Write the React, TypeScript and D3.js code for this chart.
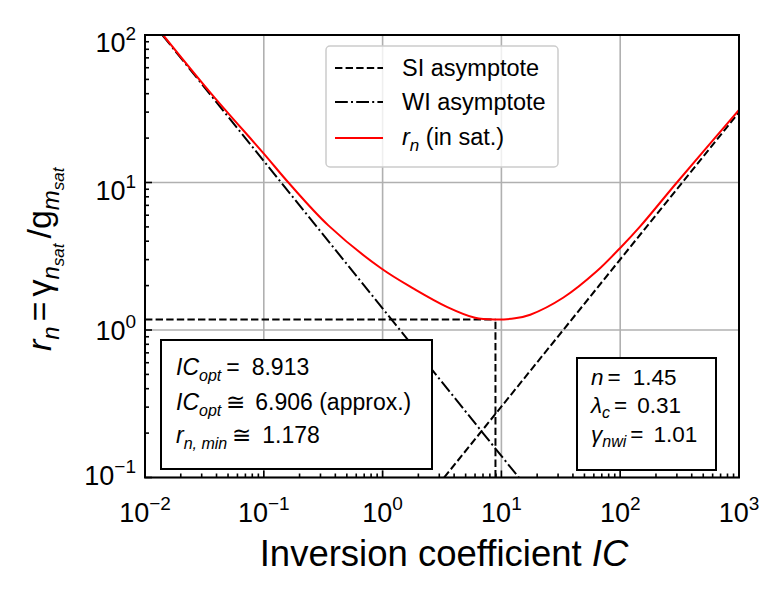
import React from 'react';
import * as d3 from 'd3';

// r_n curve (IC, r_n)
const rnIC = [0.0142, 0.0365, 0.1, 0.161, 0.351, 0.97, 1.84, 3.51, 6.0, 8.913, 13.0, 17.5, 33.3, 63.4, 100, 146, 300, 1000];
const rnVal = [100, 39.6, 15.7, 10.0, 5.1, 2.62, 1.90, 1.43, 1.21, 1.178, 1.20, 1.27, 1.66, 2.5, 3.6, 5.0, 10, 31];

// asymptotes (end points)
const siIC = [3.3, 1000];
const siVal = [0.1, 30];
const wiIC = [0.014, 14];
const wiVal = [100, 0.1];

// optimum
const icOpt = 8.913;
const icOptApprox = 6.906;
const rMin = 1.178;

// device parameters
const nSlope = 1.45;
const lambdaC = 0.31;
const gammaNwi = 1.01;

const xDecades = [-2, -1, 0, 1, 2, 3];
const yDecades = [-1, 0, 1, 2];

const W = 781;
const H = 592;
const margin = { top: 35, right: 42, bottom: 114.5, left: 145 };
const FONT = '"Liberation Sans", Arial, Helvetica, sans-serif';

const App: React.FC = () => {
  const x = d3.scaleLog().domain([1e-2, 1e3]).range([margin.left, W - margin.right]);
  const y = d3.scaleLog().domain([1e-1, 1e2]).range([H - margin.bottom, margin.top]);
  const [x0, x1] = x.range();
  const [y0, y1] = y.range();

  const line = d3.line<[number, number]>()
    .x(d => x(d[0]))
    .y(d => y(d[1]));
  const curve = d3.line<[number, number]>()
    .x(d => x(d[0]))
    .y(d => y(d[1]))
    .curve(d3.curveCatmullRom.alpha(0.5));

  const rnPts = rnIC.map((v, i) => [v, rnVal[i]] as [number, number]);
  const siPts = siIC.map((v, i) => [v, siVal[i]] as [number, number]);
  const wiPts = wiIC.map((v, i) => [v, wiVal[i]] as [number, number]);
  const hOpt: [number, number][] = [[1e-2, rMin], [icOpt, rMin]];
  const vOpt: [number, number][] = [[icOpt, 1e-1], [icOpt, rMin]];

  const isMajor = (v: number) => Math.abs(Math.log10(v) - Math.round(Math.log10(v))) < 1e-9;
  const xTicks = x.ticks();
  const yTicks = y.ticks();

  // matplotlib centres mathtext labels a bit differently per exponent
  const yLabelOffset = (e: number) => (e >= 1 ? 17 : e === 0 ? 10 : 7);
  const expText = (e: number) => (e < 0 ? '\u2212' + Math.abs(e) : String(e));

  const dashed = '7.4,3.2';
  const dashDot = '12.8,3.2,2,3.2';

  return (
    <div style={{ position: 'absolute', left: 0, top: 0 }}>
      <svg width={W} height={H} style={{ display: 'block', background: '#fff' }} fontFamily={FONT}>
        <defs>
          <clipPath id="plotClip">
            <rect x={x0} y={y1} width={x1 - x0} height={y0 - y1} />
          </clipPath>
        </defs>

        {/* grid */}
        {xDecades.map(e => (
          <line key={'gx' + e} x1={x(10 ** e)} x2={x(10 ** e)} y1={y1} y2={y0} stroke="#b0b0b0" strokeWidth={1.6} />
        ))}
        {yDecades.map(e => (
          <line key={'gy' + e} x1={x0} x2={x1} y1={y(10 ** e)} y2={y(10 ** e)} stroke="#b0b0b0" strokeWidth={1.6} />
        ))}

        <g clipPath="url(#plotClip)" fill="none">
          <path d={line(siPts) || ''} stroke="#000" strokeWidth={2} strokeDasharray={dashed} />
          <path d={line(wiPts) || ''} stroke="#000" strokeWidth={2} strokeDasharray={dashDot} />
          <path d={line(hOpt) || ''} stroke="#000" strokeWidth={2} strokeDasharray={dashed} />
          <path d={line(vOpt) || ''} stroke="#000" strokeWidth={2} strokeDasharray={dashed} />
          <path d={curve(rnPts) || ''} stroke="#ff0000" strokeWidth={2} />
        </g>

        {/* ticks (inward) */}
        {xTicks.map((t, i) => (
          <line key={'tx' + i} x1={x(t)} x2={x(t)} y1={y0} y2={y0 - (isMajor(t) ? 7 : 4)} stroke="#000" strokeWidth={1.6} />
        ))}
        {yTicks.map((t, i) => (
          <line key={'ty' + i} x1={x0} x2={x0 + (isMajor(t) ? 7 : 4)} y1={y(t)} y2={y(t)} stroke="#000" strokeWidth={1.6} />
        ))}

        {/* spines */}
        <rect x={x0} y={y1} width={x1 - x0} height={y0 - y1} fill="none" stroke="#000" strokeWidth={2} />

        {/* tick labels */}
        {xDecades.map(e => (
          <text key={'lx' + e} x={x(10 ** e)} y={y0 + 44} textAnchor="middle" fontSize={27} fill="#000">
            <tspan>10</tspan>
            <tspan fontSize={19} dy={-12}>{expText(e)}</tspan>
          </text>
        ))}
        {yDecades.map(e => (
          <text key={'ly' + e} x={x0 - 9} y={y(10 ** e) + yLabelOffset(e)} textAnchor="end" fontSize={27} fill="#000">
            <tspan>10</tspan>
            <tspan fontSize={19} dy={-12}>{expText(e)}</tspan>
          </text>
        ))}

        {/* axis labels */}
        <text x={(x0 + x1) / 2 + 2} y={566} textAnchor="middle" fontSize={36.5} fill="#000">
          Inversion coefficient <tspan fontStyle="italic">IC</tspan>
        </text>
        <text transform={`translate(51, ${(y0 + y1) / 2 + 3}) rotate(-90)`} textAnchor="middle" fontSize={34} fill="#000">
          <tspan fontStyle="italic">r</tspan>
          <tspan fontStyle="italic" fontSize={24} dy={8}>n</tspan>
          <tspan dy={-8} dx={5}>=</tspan>
          <tspan dx={5}>γ</tspan>
          <tspan fontStyle="italic" fontSize={24} dy={8}>n</tspan>
          <tspan fontStyle="italic" fontSize={17} dy={5}>sat</tspan>
          <tspan dy={-13} dx={5}>/g</tspan>
          <tspan fontStyle="italic" fontSize={24} dy={8}>m</tspan>
          <tspan fontStyle="italic" fontSize={17} dy={5}>sat</tspan>
        </text>

        {/* legend */}
        <g>
          <rect x={326} y={46} width={232} height={121} rx={4} fill="#fff" fillOpacity={0.8} stroke="#cccccc" strokeWidth={1.5} />
          <line x1={335} x2={383} y1={68} y2={68} stroke="#000" strokeWidth={2} strokeDasharray={dashed} />
          <line x1={335} x2={383} y1={102} y2={102} stroke="#000" strokeWidth={2} strokeDasharray={dashDot} />
          <line x1={335} x2={383} y1={138} y2={138} stroke="#ff0000" strokeWidth={2} />
          <text x={402} y={76} fontSize={23.5} fill="#000">SI asymptote</text>
          <text x={402} y={110} fontSize={23.5} fill="#000">WI asymptote</text>
          <text x={402} y={145} fontSize={23.5} fill="#000">
            <tspan fontStyle="italic">r</tspan>
            <tspan fontStyle="italic" fontSize={17} dy={6}>n</tspan>
            <tspan dy={-6}> (in sat.)</tspan>
          </text>
        </g>

        {/* result box */}
        <g>
          <rect x={161} y={340} width={271} height={129} fill="#fff" stroke="#000" strokeWidth={2} />
          <text x={176} y={375} fontSize={23} fill="#000">
            <tspan fontStyle="italic">IC</tspan>
            <tspan fontStyle="italic" fontSize={16} dy={6}>opt</tspan>
            <tspan dy={-6} dx={5}>=</tspan>
            <tspan dx={12}>{icOpt.toFixed(3)}</tspan>
          </text>
          <text x={176} y={410} fontSize={23} fill="#000">
            <tspan fontStyle="italic">IC</tspan>
            <tspan fontStyle="italic" fontSize={16} dy={6}>opt</tspan>
            <tspan dy={-6} dx={5}>≅</tspan>
            <tspan dx={10}>{icOptApprox.toFixed(3)} (approx.)</tspan>
          </text>
          <text x={176} y={443} fontSize={23} fill="#000">
            <tspan fontStyle="italic">r</tspan>
            <tspan fontStyle="italic" fontSize={16} dy={6}>n, min</tspan>
            <tspan dy={-6} dx={5}>≅</tspan>
            <tspan dx={11}>{rMin.toFixed(3)}</tspan>
          </text>
        </g>

        {/* parameter box */}
        <g>
          <rect x={577} y={358} width={139} height={112} fill="#fff" stroke="#000" strokeWidth={2} />
          <text x={591} y={385} fontSize={22.5} fill="#000">
            <tspan fontStyle="italic">n</tspan>
            <tspan dx={4}>=</tspan>
            <tspan dx={12}>{nSlope.toFixed(2)}</tspan>
          </text>
          <text x={591} y={413} fontSize={22.5} fill="#000">
            <tspan fontStyle="italic">λ</tspan>
            <tspan fontStyle="italic" fontSize={16} dy={5}>c</tspan>
            <tspan dy={-5} dx={4}>=</tspan>
            <tspan dx={10}>{lambdaC.toFixed(2)}</tspan>
          </text>
          <text x={591} y={442} fontSize={22.5} fill="#000">
            <tspan fontStyle="italic">γ</tspan>
            <tspan fontStyle="italic" fontSize={16} dy={5}>nwi</tspan>
            <tspan dy={-5} dx={4}>=</tspan>
            <tspan dx={10}>{gammaNwi.toFixed(2)}</tspan>
          </text>
        </g>
      </svg>
    </div>
  );
};

export default App;
